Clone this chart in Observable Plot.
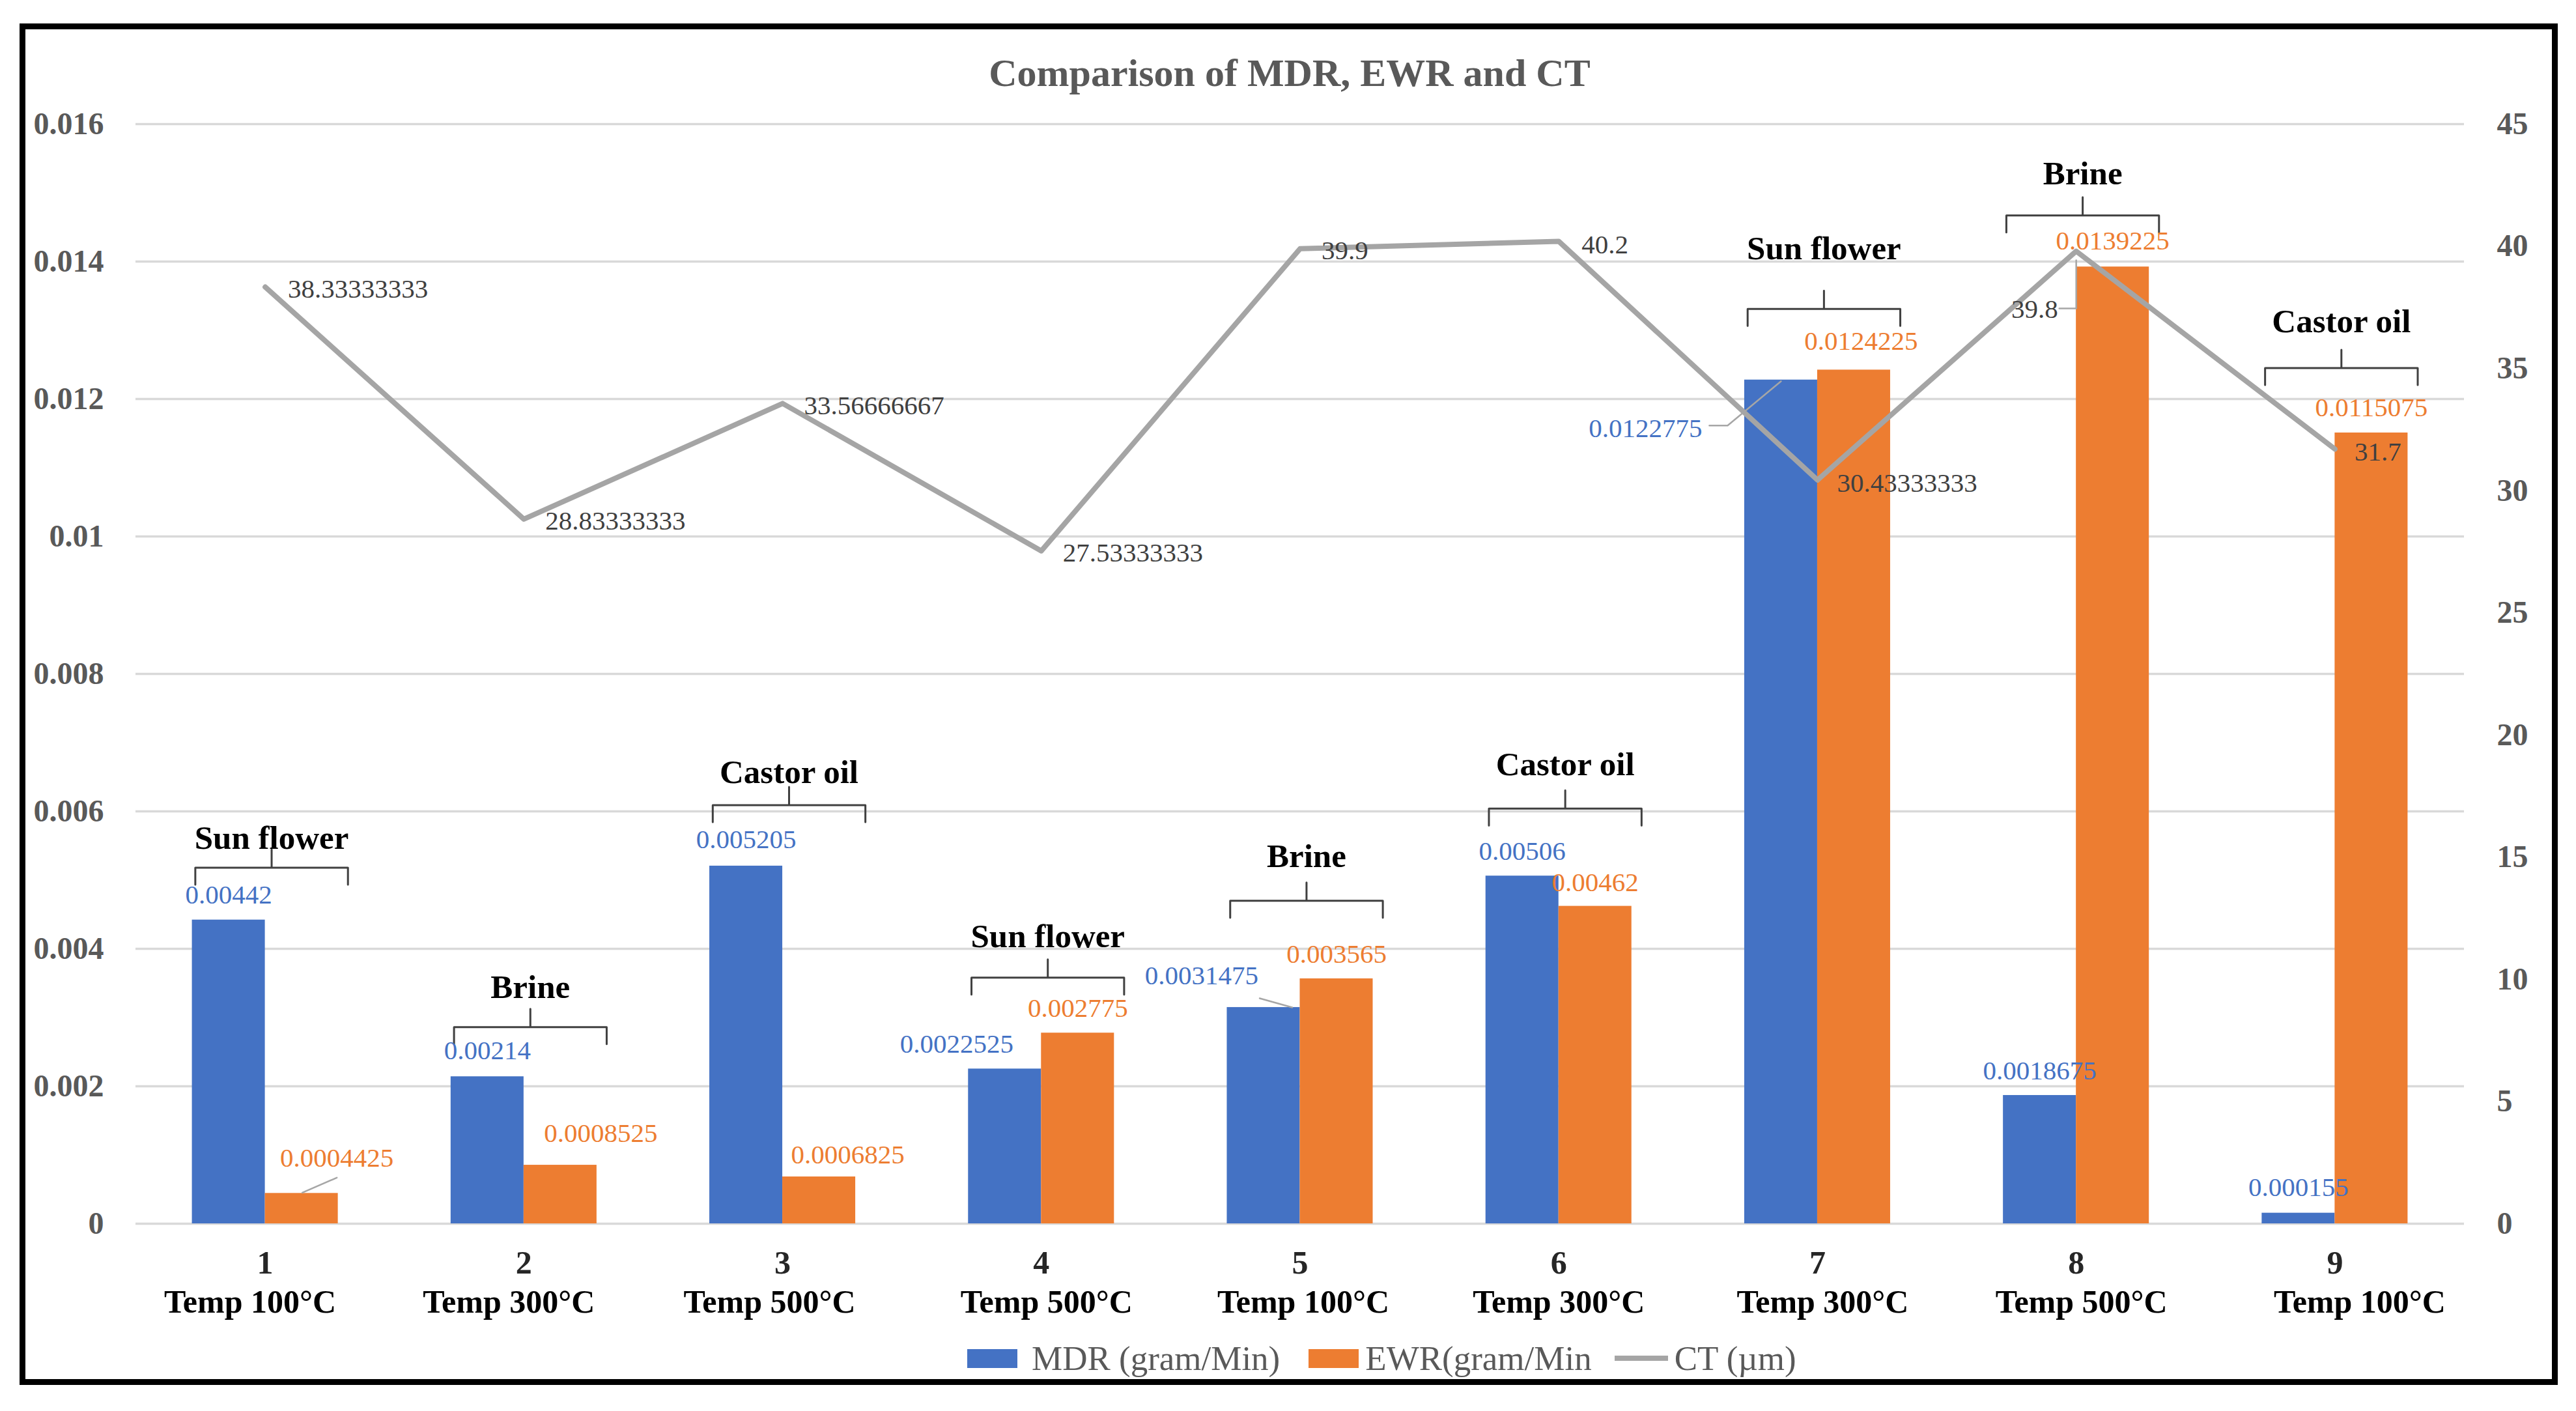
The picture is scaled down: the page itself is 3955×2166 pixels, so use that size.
<!DOCTYPE html>
<html>
<head>
<meta charset="utf-8">
<script src="https://cdn.jsdelivr.net/npm/d3@7"></script>
<script src="https://cdn.jsdelivr.net/npm/@observablehq/plot@0.6"></script>
<style>
html,body{margin:0;padding:0;background:#fff;}
body{width:3955px;height:2166px;position:relative;overflow:hidden;font-family:"Liberation Serif",serif;}
#frame{position:absolute;left:30px;top:36px;width:3897px;height:2090px;border:9px solid #000;box-sizing:border-box;}
#title{position:absolute;left:0;width:3960px;top:77px;text-align:center;font-weight:bold;font-size:60px;color:#595959;line-height:70px;}
#chart{position:absolute;left:0;top:150px;}
#legend{position:absolute;left:1485px;top:2055px;height:60px;display:flex;align-items:center;font-size:53px;color:#595959;white-space:nowrap;}
.sw{display:inline-block;width:77px;height:29px;}
.ln{display:inline-block;width:82px;height:8px;background:#A5A5A5;}
</style>
</head>
<body>
<div id="frame"></div>
<div id="title">Comparison of MDR, EWR and CT</div>
<div id="chart"></div>
<div id="legend">
  <span class="sw" style="background:#4472C4"></span><span style="margin-left:22px">MDR (gram/Min)</span>
  <span class="sw" style="background:#ED7D31;margin-left:44px"></span><span style="margin-left:10px">EWR(gram/Min</span>
  <span class="ln" style="margin-left:35px"></span><span style="margin-left:10px">CT (µm)</span>
</div>
<script>
// ---- data ----
const groups = [1, 2, 3, 4, 5, 6, 7, 8, 9];
const temps = ["Temp 100°C", "Temp 300°C", "Temp 500°C", "Temp 500°C", "Temp 100°C", "Temp 300°C", "Temp 300°C", "Temp 500°C", "Temp 100°C"];
const fluids = ["Sun flower", "Brine", "Castor oil", "Sun flower", "Brine", "Castor oil", "Sun flower", "Brine", "Castor oil"];
const mdr = [0.00442, 0.00214, 0.005205, 0.0022525, 0.0031475, 0.00506, 0.0122775, 0.0018675, 0.000155];
const ewr = [0.0004425, 0.0008525, 0.0006825, 0.002775, 0.003565, 0.00462, 0.0124225, 0.0139225, 0.0115075];
const ct = [38.33333333, 28.83333333, 33.56666667, 27.53333333, 39.9, 40.2, 30.43333333, 39.8, 31.7];
const leftTicks = [0, 0.002, 0.004, 0.006, 0.008, 0.01, 0.012, 0.014, 0.016];
const rightTicks = [0, 5, 10, 15, 20, 25, 30, 35, 40, 45];
// bracket level (left-axis units) for each fluid annotation
const bracketLevel = [0.00518, 0.00286, 0.00609, 0.00358, 0.0047, 0.00604, 0.01331, 0.01467, 0.01245];

// ---- layout / annotation styling ----
const W = 3955, H = 1880, mL = 208, mR = 172, mT = 40, mB = 152;
const innerW = W - mL - mR, innerH = H - mT - mB;
const yMax = 0.016, k = yMax / 45;
const ux = px => px * 9 / innerW;      // pixels -> x units
const uy = px => px * yMax / innerH;   // pixels -> y units
const bw = 0.282;                       // bar width in group units
const labelLift = [45, 61, 50, 63, 68, 68, 93, 64, 71];
const mdrOff = [[0,-38],[0,-40],[0,-40],[-74,-38],[-95,-49],[0,-38],[-208,75],[0,-38],[0,-39]];
const ewrOff = [[54,-54],[62,-49],[44,-34],[0,-38],[0,-38],[0,-36],[11,-44],[0,-40],[0,-39]];
const ctOff = [[35,3],[33,3],[33,3],[33,3],[33,3],[35,5],[30,5],[-28,89],[30,4]];
const ctAnchor = ["start","start","start","start","start","start","start","end","start"];
const tempShift = [-23, -23, -20, 8, 5, 0, 8, 8, 38];

const rows = groups.map((g, i) => ({g, i, temp: temps[i], fluid: fluids[i], mdr: mdr[i], ewr: ewr[i], ct: ct[i], lvl: bracketLevel[i]}));

// bracket polylines
const bL = -0.27, bR = 0.32, bM = 0.025, drop = uy(26), stem = uy(28);
const bracketPts = rows.flatMap(r => [
  [r.g + bL, r.lvl - drop], [r.g + bL, r.lvl], [r.g + bM, r.lvl], [r.g + bM, r.lvl + stem],
  [r.g + bM, r.lvl], [r.g + bR, r.lvl], [r.g + bR, r.lvl - drop]
].map(([x, y]) => ({g: r.g, x, y})));

// leader lines (anchor in data units, then pixel offsets)
const leaders = [
  {id: "e1", ax: 1 + bw / 2, ay: ewr[0], pts: [[1,-1],[54,-24]]},
  {id: "m5", ax: 5 - bw / 2, ay: mdr[4], pts: [[-6,-14],[44,0]]},
  {id: "m7", ax: 7 - bw / 2, ay: mdr[6], pts: [[-110,70],[-82,70],[0,2]]},
  {id: "c8", ax: 8, ay: ct[7] * k, pts: [[0,14],[0,88],[-26,88]]}
];
const leaderPts = leaders.flatMap(L => L.pts.map(([dx, dy]) => ({id: L.id, x: L.ax + ux(dx), y: L.ay - uy(dy)})));

const chart = Plot.plot({
  width: W, height: H,
  marginLeft: mL, marginRight: mR, marginTop: mT, marginBottom: mB,
  style: {fontFamily: "'Liberation Serif', serif", background: "transparent", overflow: "visible"},
  x: {type: "linear", domain: [0.5, 9.5], label: null},
  y: {domain: [0, yMax], label: null},
  marks: [
    Plot.gridY(leftTicks, {stroke: "#d9d9d9", strokeOpacity: 1, strokeWidth: 3.5}),
    Plot.rectY(rows, {x1: d => d.g - bw, x2: d => d.g, y: "mdr", fill: "#4472C4"}),
    Plot.rectY(rows, {x1: d => d.g, x2: d => d.g + bw, y: "ewr", fill: "#ED7D31"}),
    Plot.line(rows, {x: "g", y: d => d.ct * k, stroke: "#A5A5A5", strokeWidth: 8, strokeLinejoin: "round", strokeLinecap: "round"}),
    Plot.line(leaderPts, {x: "x", y: "y", z: "id", stroke: "#A6A6A6", strokeWidth: 2.5}),
    Plot.line(bracketPts, {x: "x", y: "y", z: "g", stroke: "#404040", strokeWidth: 3, strokeLinejoin: "round"}),
    Plot.text(rows, {x: d => d.g + bM, y: d => d.lvl + uy(labelLift[d.i]), text: "fluid", fontSize: 51, fontWeight: "bold", fill: "#000", lineAnchor: "middle"}),
    Plot.text(rows, {x: d => d.g - bw / 2 + ux(mdrOff[d.i][0]), y: d => d.mdr - uy(mdrOff[d.i][1]), text: d => String(d.mdr), fontSize: 41, fill: "#4472C4", lineAnchor: "middle"}),
    Plot.text(rows, {x: d => d.g + bw / 2 + ux(ewrOff[d.i][0]), y: d => d.ewr - uy(ewrOff[d.i][1]), text: d => String(d.ewr), fontSize: 41, fill: "#ED7D31", lineAnchor: "middle"}),
    Plot.text(rows.filter(d => ctAnchor[d.i] === "start"), {x: d => d.g + ux(ctOff[d.i][0]), y: d => d.ct * k - uy(ctOff[d.i][1]), text: d => String(d.ct), fontSize: 41, fill: "#404040", textAnchor: "start", lineAnchor: "middle"}),
    Plot.text(rows.filter(d => ctAnchor[d.i] === "end"), {x: d => d.g + ux(ctOff[d.i][0]), y: d => d.ct * k - uy(ctOff[d.i][1]), text: d => String(d.ct), fontSize: 41, fill: "#404040", textAnchor: "end", lineAnchor: "middle"}),
    Plot.axisY(leftTicks, {anchor: "left", tickSize: 0, tickPadding: 49, tickFormat: d => String(d), fontSize: 48, fontWeight: "bold", fill: "#595959", label: null}),
    Plot.axisY(rightTicks.map(v => v * k), {anchor: "right", tickSize: 0, tickPadding: 50, tickFormat: d => String(Math.round(d / k)), fontSize: 48, fontWeight: "bold", fill: "#595959", label: null}),
    Plot.axisX(groups, {anchor: "bottom", tickSize: 0, tickPadding: 41, tickFormat: d => String(d), fontSize: 50, fontWeight: "bold", fill: "#262626", label: null}),
    Plot.text(rows, {x: d => d.g + ux(tempShift[d.i]), y: 0, dy: 101, text: "temp", lineAnchor: "top", fontSize: 50, fontWeight: "bold", fill: "#000"})
  ]
});
document.getElementById("chart").appendChild(chart);
</script>
</body>
</html>
